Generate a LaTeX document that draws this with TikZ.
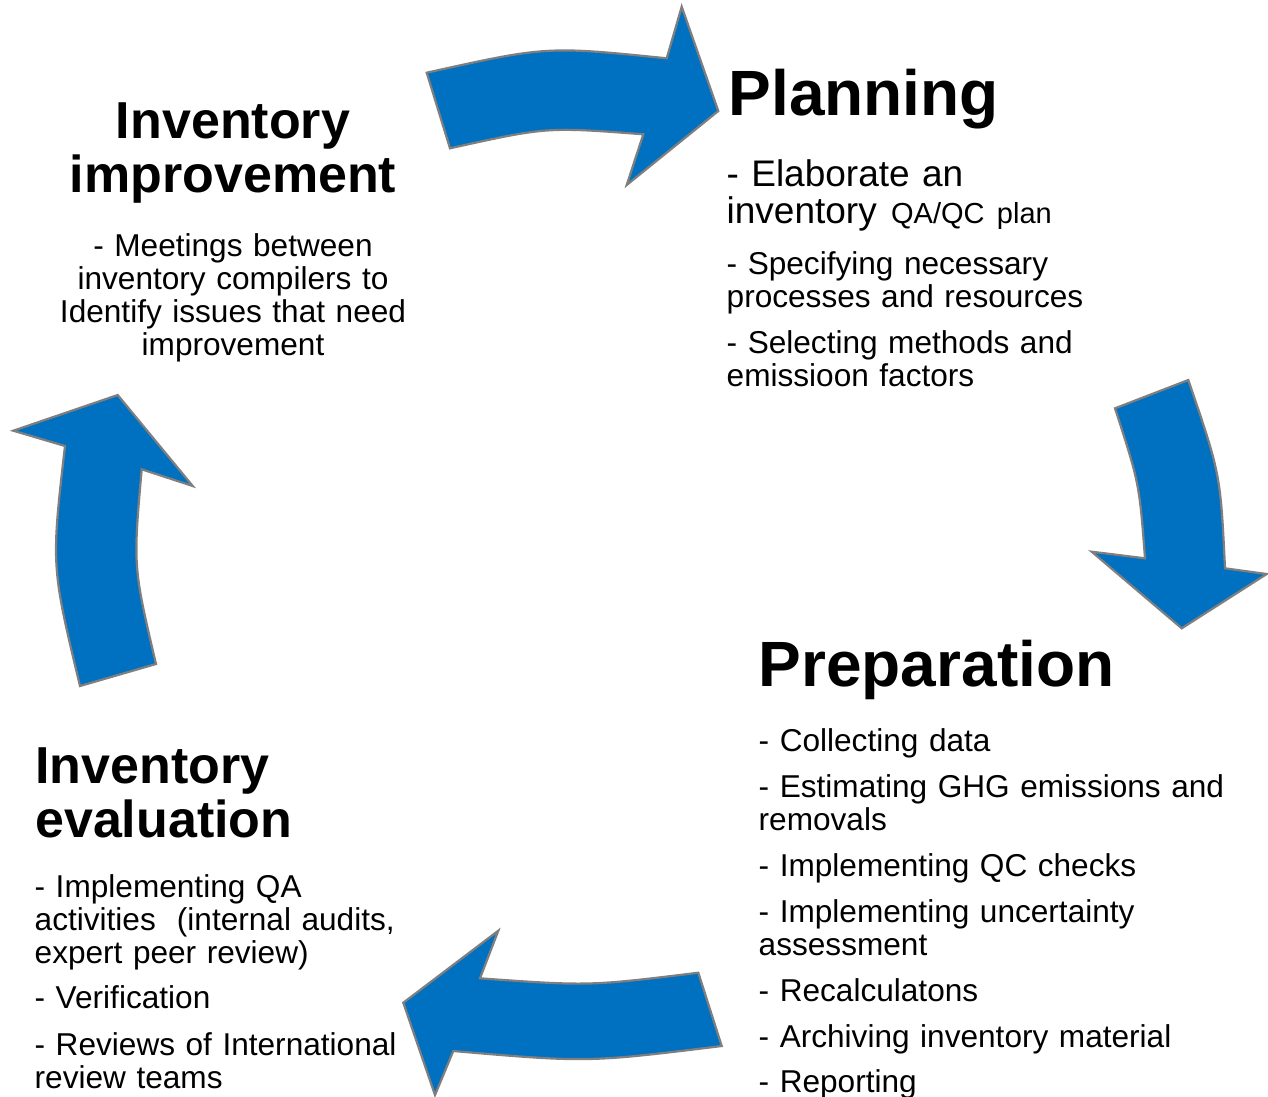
\documentclass[tikz,border=0pt]{standalone}
\usepackage{fontspec}
\setmainfont{Liberation Sans}
\definecolor{arrowblue}{RGB}{0,112,192}
\definecolor{arrowedge}{RGB}{127,127,127}
\tikzset{
  cyclearrow/.style={fill=arrowblue, draw=arrowedge, line width=2.2pt, line join=miter},
  titletext/.style={inner sep=0pt, font=\fontsize{52}{54}\selectfont\bfseries},
  bigtitle/.style={inner sep=0pt, font=\fontsize{64}{66}\selectfont\bfseries},
  bodytext/.style={inner sep=0pt, font=\fontsize{31.6}{33}\selectfont},
}
\begin{document}
\begin{tikzpicture}[x=1pt,y=-1pt]
\useasboundingbox (0,0) rectangle (1268,1096);

% top arrow (to Planning)
\draw[cyclearrow] (426.7,72.7) -- (450,148.3) .. controls (546.7,126.9) .. (643.3,134.3)
  -- (626.7,185) -- (718.3,111) -- (681.7,6.7) -- (666.7,58.3)
  .. controls (546.7,46.1) .. (426.7,72.7) -- cycle;
% right arrow (to Preparation)
\draw[cyclearrow] (1115,408.3) -- (1188.3,380) .. controls (1220.4,474) .. (1225,568.3)
  -- (1266.7,574) -- (1181.7,628.3) -- (1091.7,551.7) -- (1145,558.3)
  .. controls (1139.3,483.3) .. (1115,408.3) -- cycle;
% bottom arrow (to evaluation)
\draw[cyclearrow] (698.3,972.7) -- (721.7,1046) .. controls (587.5,1062.5) .. (453.3,1051)
  -- (435,1095) -- (403.3,1002.7) -- (498.3,930.7) -- (480,978.3)
  .. controls (589,986.1) .. (698.3,972.7) -- cycle;
% left arrow (to improvement)
\draw[cyclearrow] (80,686) -- (156,664) .. controls (133.1,566.7) .. (141.7,469.3)
  -- (192.7,486) -- (117.7,395) -- (13.3,430.7) -- (65,446)
  .. controls (51.2,566) .. (80,686) -- cycle;

% Inventory improvement
\node[titletext, text width=400pt, align=center, anchor=base] (imptitle) at (233,138)
  {Inventory\\improvement};
\node[bodytext, text width=400pt, align=center, anchor=base] (impbody) at (233,256.5)
  {- Meetings between\\inventory compilers to\\Identify issues that need\\improvement};

% Planning
\node[bigtitle, text width=500pt, align=left, anchor=base west] (plantitle) at (728.5,115)
  {Planning};
\node[inner sep=0pt, text width=500pt, align=left, anchor=base west,
  font=\fontsize{37}{37}\selectfont] (planA) at (726.5,186.5)
  {- Elaborate an\\inventory\hspace{2pt} {\fontsize{29}{30}\selectfont QA/QC plan}};
\node[bodytext, text width=500pt, align=left, anchor=base west] (planB) at (726.5,274.5)
  {- Specifying necessary\\processes and resources};
\node[bodytext, text width=500pt, align=left, anchor=base west] (planC) at (726.5,353)
  {- Selecting methods and\\emissioon factors};

% Preparation
\node[bigtitle, text width=500pt, align=left, anchor=base west] (preptitle) at (758.5,686.5)
  {Preparation};
\node[bodytext, text width=500pt, align=left, anchor=base west] (prepA) at (758.5,751.5)
  {- Collecting data};
\node[bodytext, text width=500pt, align=left, anchor=base west] (prepB) at (758.5,797.5)
  {- Estimating GHG emissions and\\removals};
\node[bodytext, text width=500pt, align=left, anchor=base west] (prepC) at (758.5,876.5)
  {- Implementing QC checks};
\node[bodytext, text width=500pt, align=left, anchor=base west] (prepD) at (758.5,922.5)
  {- Implementing uncertainty\\assessment};
\node[bodytext, text width=500pt, align=left, anchor=base west] (prepE) at (758.5,1001.5)
  {- Recalculatons};
\node[bodytext, text width=500pt, align=left, anchor=base west] (prepF) at (758.5,1047.5)
  {- Archiving inventory material};
\node[bodytext, text width=500pt, align=left, anchor=base west] (prepG) at (758.5,1092)
  {- Reporting};

% Inventory evaluation
\node[titletext, text width=420pt, align=left, anchor=base west] (evaltitle) at (35,783.5)
  {Inventory\\evaluation};
\node[bodytext, text width=420pt, align=left, anchor=base west] (evalA) at (34.5,897)
  {- Implementing QA\\activities~ (internal audits,\\expert peer review)};
\node[bodytext, text width=420pt, align=left, anchor=base west] (evalB) at (34.5,1008.5)
  {- Verification};
\node[bodytext, text width=420pt, align=left, anchor=base west] (evalC) at (34.5,1055.5)
  {- Reviews of International\\review teams};
\end{tikzpicture}
\end{document}
